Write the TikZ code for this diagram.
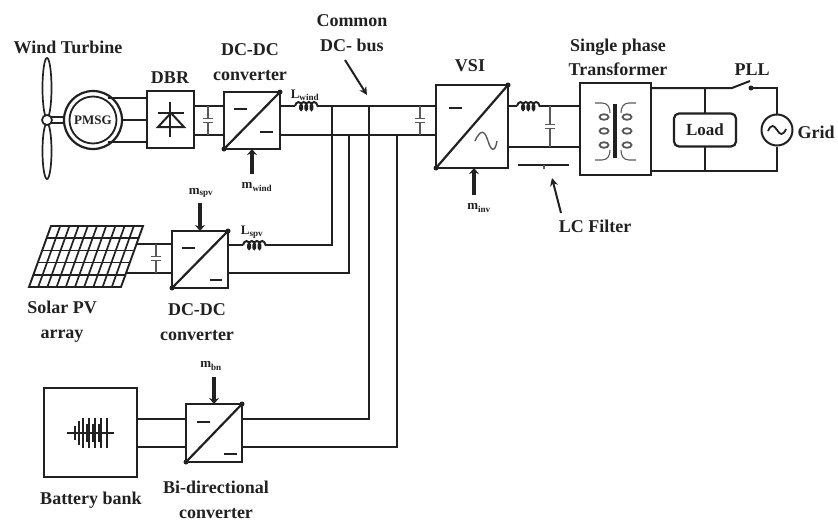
\documentclass[tikz,border=0pt]{standalone}
\usepackage{fontspec}
\setmainfont{Liberation Serif}
\usetikzlibrary{arrows.meta,decorations.pathmorphing,calc}
\definecolor{ink}{gray}{0.13}
\definecolor{soft}{gray}{0.35}
\tikzset{
  x=1pt,y=-1pt,
  every node/.style={text=ink},
  wire/.style={draw=ink,line width=2pt},
  thinwire/.style={draw=soft,line width=1.1pt},
  sized/.style 2 args={draw=ink,line width=2.2pt,rectangle,inner sep=0pt,outer sep=0pt,minimum width=#1pt,minimum height=#2pt},
  lab/.style={font=\bfseries\fontsize{18}{20}\selectfont,inner sep=0pt,align=center,text=ink},
  sublab/.style={font=\bfseries\fontsize{13}{15}\selectfont,inner sep=0pt,text=ink},
  signal/.style={draw=ink,line width=4pt,-{Stealth[length=6pt,width=10pt]}},
  pointer/.style={draw=ink,line width=2pt,-{Stealth[length=8pt,width=8pt]}},
  coilwire/.style={draw=ink,line width=2pt,decorate,decoration={coil,aspect=0.55,segment length=5.2pt,amplitude=4pt}},
}
\newcommand{\capsym}[3]{%
  \draw[thinwire] (#1,#2) -- (#1,#3);
  \fill[white] ({#1-5},{(#2+#3)/2-2}) rectangle ({#1+5},{(#2+#3)/2+2});
  \draw[thinwire] ({#1-5},{(#2+#3)/2-2}) -- ({#1+5},{(#2+#3)/2-2});
  \draw[thinwire] ({#1-5},{(#2+#3)/2+2}) -- ({#1+5},{(#2+#3)/2+2});
}
\newcommand{\convmarks}[1]{%
  \draw[wire,line width=2.2pt] (#1.south west) -- (#1.north east);
  \fill[ink] (#1.south west) circle (2.5pt) (#1.north east) circle (2.5pt);
}
\begin{document}
\begin{tikzpicture}
\useasboundingbox (0,0) rectangle (838,522);
% wind turbine
\draw[draw=ink,line width=1.7pt] (47,88) ellipse (4.5 and 30);
\draw[draw=ink,line width=1.7pt] (47,151) ellipse (4.5 and 28);
\draw[wire] (47,117) -- (66,117) (47,123) -- (66,123);
\node[circle,draw=ink,line width=1.7pt,fill=white,minimum size=10pt,inner sep=0pt] (hub) at (47,120) {};
\node[circle,draw=ink,line width=2.2pt,fill=white,minimum size=58pt,inner sep=0pt] (pmsgo) at (93,120) {};
\node[circle,draw=ink,line width=1.8pt,minimum size=47pt,inner sep=0pt,font=\bfseries\fontsize{13}{14}\selectfont] (pmsg) at (93,120) {PMSG};
% boxes
\node[sized={47}{57}] (dbr) at (170.5,119.5) {};
\node[sized={56}{57}] (conv1) at (252,120.5) {};
\node[sized={72}{83}] (vsi) at (472,126.5) {};
\node[sized={71}{92}] (tr) at (615.5,129) {};
\node[sized={62}{33},rounded corners=5pt] (load) at (705,130) {};
\node[circle,draw=ink,line width=2pt,minimum size=31pt,inner sep=0pt] (grid) at (777,130) {};
\node[sized={56}{57}] (conv2) at (200,259.5) {};
\node[sized={56}{58}] (conv3) at (214,433) {};
\node[sized={93}{89}] (bat) at (90.5,432.5) {};
% machine to DBR
\draw[wire] (pmsgo.north east |- 0,98) ++(-6,0) -- (dbr.west |- 0,98);
\draw[wire] (pmsgo.east |- 0,120) ++(-2,0) -- (dbr.west |- 0,120);
\draw[wire] (pmsgo.south east |- 0,142) ++(-6,0) -- (dbr.west |- 0,142);
% diode
\draw[wire] (170,102) -- (170,137);
\draw[wire] (158,113) -- (184,113);
\draw[wire] (158,127) -- (184,127) -- (171,113) -- cycle;
% DBR to converter 1
\draw[wire] (dbr.east |- 0,106) -- (conv1.west |- 0,106);
\draw[wire] (dbr.east |- 0,135) -- (conv1.west |- 0,135);
\capsym{208}{106}{135}
\convmarks{conv1}
\draw[wire] (234,109) -- (247,109) (260,132) -- (273,132);
% DC bus
\coordinate (l1a) at (295,106); \coordinate (l1b) at (318,106);
\draw[wire] (conv1.east |- 0,106) -- (l1a);
\draw[coilwire] (l1a) -- (l1b);
\draw[wire] (l1b) -- (vsi.west |- 0,106);
\draw[wire] (conv1.east |- 0,135) -- (vsi.west |- 0,135);
\capsym{420}{106}{135}
\convmarks{vsi}
\draw[wire] (449,108) -- (462,108);
\draw[draw=soft,line width=1.4pt] (475,141) .. controls (481,128) and (485,131) .. (488,141) .. controls (491,151) and (495,153) .. (497,141);
% bus taps
\coordinate (t1) at (332,106); \coordinate (t2) at (349,135);
\coordinate (t3) at (369,106); \coordinate (t4) at (397,135);
\coordinate (l2a) at (243,245); \coordinate (l2b) at (266,245);
\draw[wire] (conv2.east |- 0,245) -- (l2a);
\draw[coilwire] (l2a) -- (l2b);
\draw[wire] (l2b) -- (t1 |- 0,245) -- (t1);
\draw[wire] (conv2.east |- 0,273) -- (t2 |- 0,273) -- (t2);
\draw[wire] (conv3.east |- 0,419) -- (t3 |- 0,419) -- (t3);
\draw[wire] (conv3.east |- 0,447) -- (t4 |- 0,447) -- (t4);
% LC filter
\coordinate (l3a) at (517,106); \coordinate (l3b) at (540,106);
\draw[wire] (vsi.east |- 0,106) -- (l3a);
\draw[coilwire] (l3a) -- (l3b);
\draw[wire] (l3b) -- (tr.west |- 0,106);
\draw[wire] (vsi.east |- 0,147) -- (tr.west |- 0,147);
\capsym{550}{106}{147}
\draw[wire] (518,165) -- (569,165);
\draw[thinwire] (544,165) -- (544,169);
% transformer
\draw[draw=ink,line width=4pt] (615,104) -- (615,158);
\draw[thinwire] (595,103) -- (602,103) .. controls (608,103) and (610,108) .. (610,113)
  (595,160) -- (602,160) .. controls (608,160) and (610,155) .. (610,150);
\draw[thinwire] (636,103) -- (629,103) .. controls (623,103) and (621,108) .. (621,113)
  (636,160) -- (629,160) .. controls (623,160) and (621,155) .. (621,150);
\foreach \cy in {117,131,145}{
  \draw[draw=soft,line width=1.8pt] (604,\cy) ellipse (4.5 and 2.8);
  \draw[draw=soft,line width=1.8pt] (627,\cy) ellipse (4.5 and 2.8);
}
% transformer to grid
\coordinate (sw1) at (732,88); \coordinate (sw2) at (751,88);
\draw[wire] (tr.east |- 0,88) -- (sw1) -- (750,81);
\fill[ink] (sw2) circle (2.5pt);
\draw[wire] (sw2) -- (grid.north |- 0,88) -- (grid.north);
\draw[wire] (tr.east |- 0,171) -- (grid.south |- 0,171) -- (grid.south);
\draw[wire] (load.north |- 0,88) -- (load.north);
\draw[wire] (load.south) -- (load.south |- 0,171);
\draw[draw=ink,line width=1.8pt] (768,131) .. controls (771,124) and (774,125) .. (777,130) .. controls (780,135) and (783,136) .. (786,129);
% solar panel
\draw[draw=ink,line width=1.9pt] (51,226) -- (143,226) -- (121,287) -- (29,287) -- cycle;
\foreach \i in {1,...,4}
  \draw[draw=ink,line width=1.7pt] ({51-22*\i/5},{226+61*\i/5}) -- ({143-22*\i/5},{226+61*\i/5});
\foreach \i in {1,...,9}
  \draw[draw=ink,line width=1.7pt] ({51+9.2*\i},226) -- ({29+9.2*\i},287);
\coordinate (pv1) at (136,244); \coordinate (pv2) at (126,273);
\draw[wire] (pv1) -- (conv2.west |- 0,244);
\draw[wire] (pv2) -- (conv2.west |- 0,273);
\capsym{156}{244}{273}
\convmarks{conv2}
\draw[wire] (182,248) -- (195,248) (210,280) -- (222,280);
% battery
\draw[wire] (bat.east |- 0,419) -- (conv3.west |- 0,419);
\draw[wire] (bat.east |- 0,447) -- (conv3.west |- 0,447);
\draw[wire] (67,433) -- (114,433);
\foreach \bx/\bh in {75/7,79/12,83/15,87/9,89/15,93/9,95/15,99/9,101/15,107/15}
  \draw[draw=ink,line width=1.5pt] (\bx,433-\bh) -- (\bx,433+\bh);
\convmarks{conv3}
\draw[wire] (197,422) -- (210,422) (224,454) -- (237,454);
% control arrows
\node[sublab] (mwind) at (257,187) {m\textsubscript{wind}};
\node[sublab] (mspv) at (201,193) {m\textsubscript{spv}};
\node[sublab] (mbn) at (211,366) {m\textsubscript{bn}};
\node[sublab] (minv) at (479,208) {m\textsubscript{inv}};
\draw[signal] (252,174) -- (conv1.south -| 252,0);
\draw[signal] (200,203) -- (conv2.north);
\draw[signal] (214,377) -- (conv3.north);
\draw[signal] (474,195) -- (vsi.south -| 474,0);
% labels
\node[lab] (t-wind) at (68,47) {Wind Turbine};
\node[lab] (t-dbr) at (170,78) {DBR};
\node[lab] (t-dc1) at (250,62) {DC-DC\\[5pt]converter};
\node[lab] (t-bus) at (352,33) {Common\\[5pt]DC- bus};
\node[lab] (t-vsi) at (470,66) {VSI};
\node[lab] (t-tr) at (618,57) {Single phase\\[4pt]Transformer};
\node[lab] (t-pll) at (752,70) {PLL};
\node[lab,font=\bfseries\fontsize{17}{19}\selectfont] (t-load) at (705,130) {Load};
\node[lab] (t-grid) at (816,132) {Grid};
\node[lab] (t-lc) at (595,226) {LC Filter};
\node[lab] (t-pv) at (62,322) {Solar PV\\[5pt]array};
\node[lab] (t-dc2) at (197,322) {DC-DC\\[5pt]converter};
\node[lab] (t-bat) at (91,500) {Battery bank};
\node[lab] (t-bi) at (216,500) {Bi-directional\\[5pt]converter};
\node[sublab] (lwind) at (305,95) {L\textsubscript{wind}};
\node[sublab] (lspv) at (252,232) {L\textsubscript{spv}};
\coordinate (busend) at (367,95);
\coordinate (lcend) at (552,178);
\draw[pointer] (345,60) -- (busend);
\draw[pointer] (561,213) -- (lcend);
\end{tikzpicture}
\end{document}
